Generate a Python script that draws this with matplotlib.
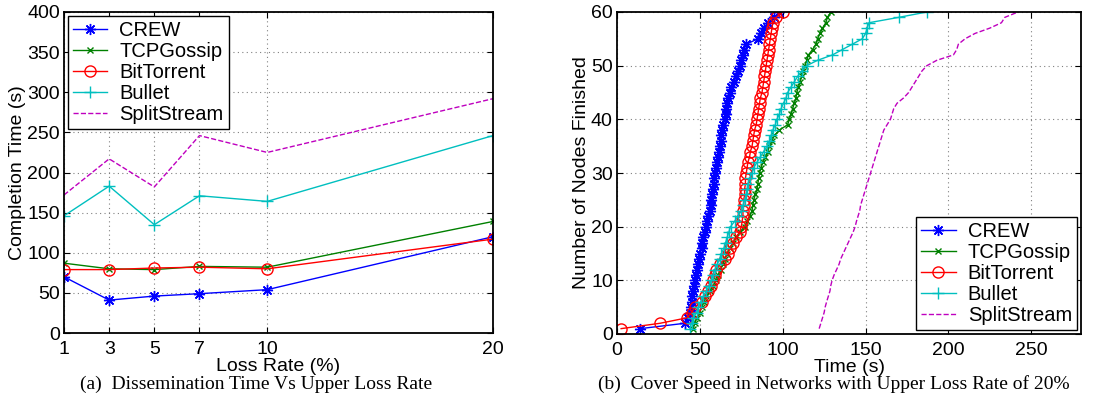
import matplotlib
matplotlib.use('Agg')
import matplotlib.pyplot as plt
import numpy as np

plt.rcParams['font.family'] = ['Liberation Sans', 'DejaVu Sans']
plt.rcParams['font.size'] = 14

# ---- (a) completion time vs loss rate
loss_rate = [1, 3, 5, 7, 10, 20]
crew_a = [70, 41, 46, 49, 54, 120]
tcpgossip_a = [87, 80, 79, 83, 82, 139]
bittorrent_a = [79, 79, 81, 82, 80, 117]
bullet_a = [146, 183, 135, 171, 164, 246]
splitstream_a = [172, 217, 182, 246, 225, 292]

# ---- (b) time at which the n-th node finished (n = 1..60)
nodes = list(range(1, 61))
crew_b = [14, 41, 43, 44, 44.5, 45, 45.5, 46, 46.5, 47,
          47.5, 48, 49, 49.5, 50, 51, 51.5, 52, 53, 54,
          54.5, 55, 56, 56.5, 57, 57.5, 58, 58.5, 58.5, 59,
          60, 60.5, 61, 61.5, 62, 62.5, 63, 63.5, 64, 65,
          65.5, 66, 66.5, 67, 68, 69, 70.5, 72, 73, 74,
          75, 76, 76.5, 78, 85, 87, 89, 91, 95, 98]
tcpgossip_b = [46, 47, 48, 50, 51, 52.5, 54, 56, 58, 60,
               61, 62.5, 64, 65, 66.5, 68, 70, 72, 74, 77,
               78.5, 80, 81.5, 82, 82.5, 83.5, 84.5, 85, 85.5, 86,
               87, 88, 89.5, 91, 92, 93.5, 95, 98, 103, 104,
               105, 106, 107, 108, 108.5, 109.5, 110.5, 111.5, 112.5, 113.5,
               114.5, 115.5, 118, 120, 121, 122.5, 124, 126, 127, 129]
bittorrent_b = [2.5, 26, 42, 45, 47, 51, 53, 55, 56.5, 58,
                59, 60, 62, 65, 67, 68, 70, 72, 74, 75,
                75.5, 76, 76, 76.5, 76.5, 77, 77, 77.5, 77.5, 78,
                78.5, 79, 80, 80.5, 81.5, 82, 82.5, 83, 84, 84.5,
                85, 85.5, 86, 86.5, 87.5, 88, 88.5, 89, 89.5, 90,
                90.5, 91, 91.5, 92, 92.5, 93, 93.5, 94, 96, 100]
bullet_b = [44, 45, 46, 48, 49, 50.5, 52, 54, 55.5, 57,
            58, 59, 60.5, 62, 63, 64.5, 65.5, 66.5, 67.5, 68.5,
            71, 73, 75, 76, 77, 78, 78.5, 79, 80, 81.5,
            82.5, 84.5, 86.5, 88.5, 90.5, 92, 93, 94, 95.5, 96.5,
            98, 99, 100.5, 102, 103, 105, 107, 109, 111.5, 114.5,
            121, 130, 136, 142, 148, 150, 151, 152, 170, 187]
splitstream_b = [122, 123, 124, 125, 125.6, 126.5, 127.5, 128.5, 129, 129.8,
                 131, 132.5, 134, 135, 136.5, 138, 139.5, 141, 142.5, 143.7,
                 144.5, 145.5, 146.5, 147, 148, 149, 150, 151, 152, 153,
                 154, 155, 156, 157, 158, 159, 160, 161, 163, 165,
                 166, 167, 169, 173, 176, 178, 180, 182, 184, 187,
                 193, 203, 205, 206, 210, 216, 225, 232, 234, 242]

labels = ['CREW', 'TCPGossip', 'BitTorrent', 'Bullet', 'SplitStream']
colors = ['#0000ff', '#008000', '#ff0000', '#00bfbf', '#bf00bf']
markers = [(8, 2, 0), 'x', 'o', '+', None]
msizes = [8, 5, 8, 8, 0]
styles = ['-', '-', '-', '-', '--']


def style_axes(ax):
    ax.grid(True, linestyle=(0, (1, 3)), color='#808080', linewidth=0.8)
    ax.tick_params(direction='in', top=True, right=True, length=4)
    ax.tick_params(axis='x', pad=6)
    ax.tick_params(axis='y', pad=3)
    for s in ax.spines.values():
        s.set_linewidth(1.3)


def draw(ax, xs_list, ys_list, legend_loc):
    for i in range(len(labels)):
        ax.plot(xs_list[i], ys_list[i], linestyle=styles[i], color=colors[i],
                marker=markers[i], markersize=msizes[i],
                markerfacecolor='none' if markers[i] == 'o' else colors[i],
                markeredgewidth=1.0, linewidth=1.0, label=labels[i])
    leg = ax.legend(loc=legend_loc, fancybox=False, edgecolor='black',
                    framealpha=1, handlelength=1.7, borderpad=0.25,
                    labelspacing=0.1, handletextpad=0.6, borderaxespad=0.2,
                    fontsize=14.5)
    leg.get_frame().set_linewidth(1.0)


fig = plt.figure(figsize=(10.93, 3.98), dpi=100)
ax1 = fig.add_axes([64 / 1093, 1 - 333 / 398, 429 / 1093, 321 / 398])
ax2 = fig.add_axes([617 / 1093, 1 - 334 / 398, 464 / 1093, 322 / 398])

draw(ax1, [loss_rate] * 5,
     [crew_a, tcpgossip_a, bittorrent_a, bullet_a, splitstream_a], 'upper left')
ax1.set_xlim(1, 20)
ax1.set_ylim(0, 400)
ax1.set_xticks(loss_rate)
ax1.set_yticks(np.arange(0, 401, 50))
ax1.set_xlabel('Loss Rate (%)', labelpad=0)
ax1.set_ylabel('Completion Time (s)', labelpad=1)
style_axes(ax1)

draw(ax2, [crew_b, tcpgossip_b, bittorrent_b, bullet_b, splitstream_b],
     [nodes] * 5, 'lower right')
ax2.set_xlim(0, 280)
ax2.set_ylim(0, 60)
ax2.set_xticks(np.arange(0, 251, 50))
ax2.set_yticks(np.arange(0, 61, 10))
ax2.set_xlabel('Time (s)', labelpad=0)
ax2.set_ylabel('Number of Nodes Finished', labelpad=1)
style_axes(ax2)

fig.text(256 / 1093, 1 - 384 / 398, '(a)  Dissemination Time Vs Upper Loss Rate',
         ha='center', va='center', family='Liberation Serif', fontsize=14)
fig.text(834 / 1093, 1 - 384 / 398,
         '(b)  Cover Speed in Networks with Upper Loss Rate of 20%',
         ha='center', va='center', family='Liberation Serif', fontsize=14)

fig.savefig('out.png', dpi=100)
